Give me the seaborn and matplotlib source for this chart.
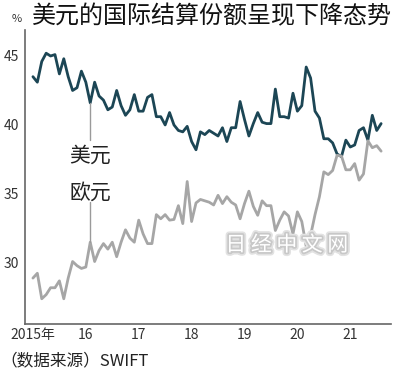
import numpy as np
import pandas as pd
import matplotlib
matplotlib.use("Agg")
import matplotlib.pyplot as plt
import matplotlib.patheffects as pe
import seaborn as sns

# monthly share of international settlement (%), Jan 2015 - Aug 2021
usd = [43.5, 43.1, 44.6, 45.2, 45.0, 45.1, 43.7, 44.8, 43.5, 42.5, 42.7, 43.9,
       43.1, 41.6, 43.1, 42.1, 41.8, 41.1, 41.3, 42.5, 41.4, 40.7, 41.1, 42.2,
       41.0, 41.0, 42.0, 42.2, 40.6, 40.6, 40.0, 40.9, 40.0, 39.6, 39.5, 39.9,
       38.8, 38.2, 39.5, 39.3, 39.6, 39.4, 39.2, 39.8, 38.8, 39.8, 39.8, 41.7,
       40.4, 39.2, 40.1, 40.9, 40.2, 40.1, 40.1, 42.6, 40.6, 40.6, 40.5, 42.3,
       41.0, 41.4, 44.2, 43.4, 41.0, 40.5, 39.0, 39.0, 38.7, 37.9, 37.7, 38.9,
       38.4, 38.55, 39.6, 39.8, 38.9, 40.7, 39.6, 40.1]
eur = [28.9, 29.25, 27.4, 27.7, 28.2, 28.2, 28.7, 27.4, 28.9, 30.1, 29.8, 29.6,
       29.7, 31.5, 30.1, 30.9, 31.4, 31.0, 31.5, 30.45, 31.5, 32.4, 31.8, 31.5,
       33.1, 32.1, 31.4, 31.4, 33.5, 33.2, 33.5, 33.1, 33.15, 34.15, 32.85, 35.9,
       33.0, 34.35, 34.6, 34.5, 34.4, 34.2, 34.9, 34.3, 34.8, 34.4, 34.2, 33.2,
       34.3, 35.2, 34.1, 33.45, 34.5, 34.15, 34.15, 32.35, 33.1, 33.7, 33.4, 32.1,
       33.7, 33.0, 31.2, 32.0, 33.5, 34.8, 36.6, 36.4, 36.7, 37.8, 37.75, 36.75,
       36.75, 37.2, 36.0, 36.45, 38.85, 38.35, 38.5, 38.1]
years = [2015, 2016, 2017, 2018, 2019, 2020, 2021]
year_labels = ["2015年", "16", "17", "18", "19", "20", "21"]
y_ticks = [30, 35, 40, 45]

t = 2015 + np.arange(len(usd)) / 12
df = pd.DataFrame({"t": np.concatenate([t, t]),
                   "share": usd + eur,
                   "cur": ["美元"] * len(usd) + ["欧元"] * len(eur)})

sns.set_style("white")
plt.rcParams["font.family"] = ["Noto Sans CJK SC", "DejaVu Sans"]

fig = plt.figure(figsize=(4.0, 3.71), dpi=100)
ax = fig.add_axes([0.0625, 0.127, 0.915, 0.792])

sns.lineplot(data=df, x="t", y="share", hue="cur",
             palette={"美元": "#1c4655", "欧元": "#a6a6a6"},
             linewidth=2.0, legend=False, ax=ax)

ax.set_xlim(2014.85, 2021.77)
ax.set_ylim(25.58, 46.88)
ax.set_xticks(years)
ax.set_xticklabels(year_labels, fontsize=10, color="#333333")
ax.set_yticks(y_ticks)
ax.set_yticklabels([str(v) for v in y_ticks], fontsize=10, color="#333333")
ax.tick_params(axis="x", direction="in", length=3, width=1, color="#555555", pad=3)
ax.tick_params(axis="y", direction="out", length=3, width=1, color="#555555", pad=1)
ax.set_xlabel("")
ax.set_ylabel("")
for s in ["top", "right"]:
    ax.spines[s].set_visible(False)
for s in ["left", "bottom"]:
    ax.spines[s].set_color("#666666")
    ax.spines[s].set_linewidth(1.2)

# pointer lines from labels to the series
x13 = t[13]
ax.plot([x13, x13], [usd[13], 38.9], color="#9a9a9a", lw=1.0)
ax.plot([x13, x13], [34.4, eur[13]], color="#9a9a9a", lw=1.0)
ax.text(x13, 37.75, "美元", ha="center", va="center", fontsize=15, color="#222222")
ax.text(x13, 35.1, "欧元", ha="center", va="center", fontsize=15, color="#222222")

# watermark
ax.text(2019.8, 31.3, "日 经 中 文 网", ha="center", va="center", fontsize=15,
        color="white",
        path_effects=[pe.withStroke(linewidth=5, foreground="#e2e2e2"),
                      pe.withStroke(linewidth=2.5, foreground="#c8c8c8")])

fig.text(0.08, 0.955, "美元的国际结算份额呈现下降态势", ha="left", va="center",
         fontsize=17.3, color="#111111")
fig.text(0.03, 0.95, "%", ha="left", va="center", fontsize=8, color="#333333")
fig.text(0.0, 0.028, "（数据来源）SWIFT", ha="left", va="center", fontsize=12,
         color="#222222")

fig.savefig("out.png", dpi=100)
